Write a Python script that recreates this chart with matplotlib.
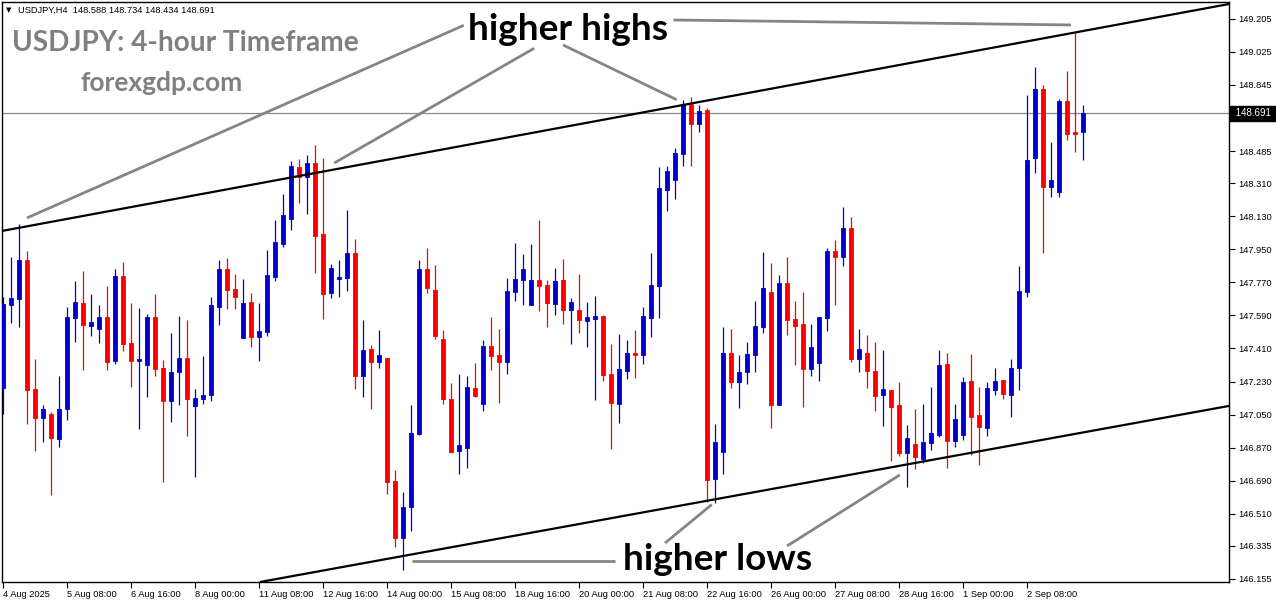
import matplotlib
matplotlib.use("Agg")
import matplotlib.pyplot as plt
import numpy as np

# ---------------- data (USDJPY H4 candles) ----------------
opens = [147.196,147.648,147.681,147.892,147.189,147.033,147.053,146.918,147.082,147.577,
         147.658,147.534,147.518,147.581,147.343,147.805,147.440,147.343,147.322,147.581,
         147.304,147.125,147.283,147.358,147.098,147.136,147.158,147.637,147.843,147.734,
         147.469,147.663,147.474,147.501,147.801,147.979,148.117,148.398,148.346,148.420,
         148.033,147.710,147.787,147.796,147.928,147.262,147.405,147.338,147.356,146.688,
         146.379,146.548,146.944,147.843,147.729,147.462,147.135,146.853,146.869,147.194,
         147.109,147.423,147.374,147.338,147.719,147.784,147.648,147.783,147.756,147.654,
         147.783,147.621,147.619,147.561,147.572,147.587,147.271,147.109,147.289,147.385,
         147.376,147.577,147.752,148.275,148.329,148.471,148.742,148.634,148.709,146.701,
         146.848,147.385,147.229,147.283,147.374,147.527,147.718,147.104,147.767,147.570,
         147.543,147.300,147.332,147.577,147.941,147.910,148.066,147.354,147.385,147.287,
         147.158,147.184,147.104,146.842,146.890,146.809,146.897,146.940,147.325,146.908,
         146.940,147.233,147.048,146.978,147.184,147.238,147.158,147.304,147.719,148.449,
         148.823,148.292,148.264,148.758,148.589,148.588]
highs = [147.689,147.910,148.088,147.941,147.353,147.102,147.064,147.260,147.634,147.777,
         147.832,147.707,147.647,147.750,147.843,147.881,147.658,147.630,147.598,147.707,
         147.349,147.494,147.587,147.565,147.189,147.369,147.690,147.892,147.903,147.816,
         147.788,147.712,147.658,147.946,148.110,148.251,148.433,148.442,148.464,148.518,
         148.447,147.870,147.892,148.164,148.006,147.565,147.429,147.511,147.356,146.748,
         146.630,147.102,147.892,147.957,147.863,147.511,147.222,147.271,147.260,147.331,
         147.456,147.581,147.516,147.794,147.984,147.924,147.979,148.110,147.783,147.848,
         147.897,147.683,147.816,147.663,147.697,147.594,147.434,147.489,147.456,147.511,
         147.637,147.930,148.398,148.404,148.502,148.763,148.781,148.736,148.720,146.999,
         147.527,147.516,147.374,147.445,147.668,147.935,147.875,147.810,147.908,147.668,
         147.718,147.543,147.581,147.957,148.001,148.180,148.126,147.516,147.483,147.445,
         147.402,147.184,147.227,146.995,147.082,147.109,147.202,147.402,147.387,147.107,
         147.254,147.380,147.200,147.227,147.304,147.238,147.353,147.859,148.791,148.943,
         148.845,148.535,148.769,148.921,149.128,148.734]
lows = [147.051,147.550,147.529,146.999,146.853,146.902,146.613,146.875,147.022,147.447,
        147.294,147.479,147.441,147.294,147.327,147.398,147.202,146.973,147.147,147.262,
        146.684,147.011,147.104,146.935,146.711,147.109,147.125,147.539,147.627,147.627,
        147.469,147.420,147.343,147.479,147.779,147.964,148.057,148.202,148.142,147.823,
        147.572,147.683,147.690,147.723,147.191,147.147,147.082,147.305,146.616,146.330,
        146.203,146.417,146.940,147.712,147.460,147.106,146.848,146.728,146.760,147.144,
        147.071,147.294,147.115,147.272,147.670,147.648,147.648,147.616,147.529,147.594,
        147.545,147.436,147.496,147.420,147.131,147.234,146.864,147.006,147.245,147.251,
        147.327,147.474,147.576,148.160,148.226,148.404,148.404,148.589,146.575,146.570,
        146.728,147.196,147.087,147.218,147.283,147.496,146.978,147.104,147.485,147.322,
        147.093,147.262,147.234,147.507,147.648,147.861,147.338,147.283,147.196,147.071,
        146.989,146.799,146.826,146.657,146.755,146.788,146.859,146.929,146.760,146.875,
        146.913,146.831,146.777,146.935,147.158,147.136,147.038,147.185,147.692,148.368,
        147.932,148.237,148.237,148.547,148.482,148.434]
closes = [147.652,147.685,147.892,147.185,147.033,147.080,146.924,147.080,147.581,147.663,
          147.539,147.554,147.581,147.338,147.805,147.436,147.343,147.353,147.581,147.300,
          147.125,147.282,147.358,147.136,147.140,147.156,147.647,147.843,147.730,147.690,
          147.658,147.474,147.505,147.810,147.990,148.137,148.404,148.342,148.420,148.024,
          147.708,147.848,147.801,147.928,147.262,147.402,147.338,147.373,146.684,146.379,
          146.546,146.949,147.843,147.741,147.479,147.133,146.848,146.884,147.200,147.151,
          147.423,147.371,147.338,147.723,147.788,147.843,147.783,147.752,147.659,147.777,
          147.621,147.661,147.567,147.581,147.587,147.267,147.115,147.298,147.385,147.376,
          147.587,147.756,148.284,148.377,148.475,148.742,148.634,148.703,146.695,146.900,
          147.385,147.229,147.282,147.380,147.532,147.739,147.104,147.767,147.567,147.534,
          147.300,147.418,147.581,147.941,147.910,148.066,147.354,147.407,147.289,147.153,
          147.189,147.093,146.842,146.922,146.820,146.900,146.949,147.320,146.908,147.026,
          147.227,147.038,146.984,147.194,147.233,147.164,147.304,147.723,148.437,148.823,
          148.292,148.328,148.758,148.580,148.580,148.691]

x_tick_pos = [0, 8, 16, 24, 32, 40, 48, 56, 64, 72, 80, 88, 96, 104, 112, 120, 128]
x_tick_labels = ["4 Aug 2025", "5 Aug 08:00", "6 Aug 16:00", "8 Aug 00:00", "11 Aug 08:00",
                 "12 Aug 16:00", "14 Aug 00:00", "15 Aug 08:00", "18 Aug 16:00", "20 Aug 00:00",
                 "21 Aug 08:00", "22 Aug 16:00", "26 Aug 00:00", "27 Aug 08:00", "28 Aug 16:00",
                 "1 Sep 00:00", "2 Sep 08:00"]
y_ticks = [149.205, 149.025, 148.845, 148.665, 148.485, 148.310, 148.130, 147.950, 147.770,
           147.590, 147.410, 147.230, 147.050, 146.870, 146.690, 146.510, 146.335, 146.155]
last_price = 148.691

# channel trend lines (index, price)
upper_channel_x = [-0.125, 153.25]
upper_channel_y = [148.050, 149.286]
lower_channel_x = [32.125, 153.25]
lower_channel_y = [146.138, 147.097]

# annotation pointer lines (index, price)
hh_pointers = [([57.6, 3.0], [149.170, 148.121]),
               ([66.4, 41.4], [149.045, 148.420]),
               ([70.0, 84.2], [149.063, 148.765]),
               ([83.8, 133.5], [149.199, 149.172])]
hl_pointers = [([76.5, 51.1], [146.250, 146.250]),
               ([82.75, 88.6], [146.350, 146.560]),
               ([98.0, 112.1], [146.334, 146.721])]

# ---------------- figure ----------------
W, H = 1276, 604
fig = plt.figure(figsize=(W / 100, H / 100), dpi=100)
fig.patch.set_facecolor("white")
ax = fig.add_axes([2 / W, 22 / H, 1227 / W, 580 / H])
ax.set_facecolor("white")

idx = np.arange(len(opens))
o = np.array(opens); h = np.array(highs); l = np.array(lows); c = np.array(closes)
up = c >= o
BLUE = "#0000CC"
RED = "#FF0000"
cols = np.where(up, BLUE, RED)

ax.vlines(idx, l, h, colors=cols, linewidth=0.9, zorder=3)
ax.bar(idx, np.abs(c - o), bottom=np.minimum(o, c), width=0.62, color=cols,
       edgecolor=cols, linewidth=0.6, zorder=4)

ax.plot(upper_channel_x, upper_channel_y, color="black", lw=1.6, zorder=5, solid_capstyle="butt")
ax.plot(lower_channel_x, lower_channel_y, color="black", lw=1.6, zorder=5, solid_capstyle="butt")
ax.axhline(last_price, color="#7A8A99", lw=0.9, zorder=2)

for xs, ys in hh_pointers + hl_pointers:
    ax.plot(xs, ys, color="#858585", lw=2.0, zorder=6, solid_capstyle="butt")

ax.set_xlim(-0.125, 153.25)
ax.set_ylim(146.138, 149.297)

small = dict(family="Liberation Sans", size=6.7)
ax.yaxis.tick_right()
ax.set_yticks(y_ticks)
# the 148.665 label sits behind the current-price box in the original
ax.set_yticklabels(["" if abs(v - 148.665) < 1e-6 else f"{v:.3f}" for v in y_ticks], fontdict=small)
ax.set_xticks(x_tick_pos)
ax.set_xticklabels(x_tick_labels, fontdict=small)
for lbl in ax.get_xticklabels():
    lbl.set_horizontalalignment("left")
ax.tick_params(axis="y", direction="out", length=4, width=0.8, pad=2.5, colors="black")
ax.tick_params(axis="x", direction="out", length=4, width=0.8, pad=1.5, colors="black")
for sp in ax.spines.values():
    sp.set_color("black")
    sp.set_linewidth(1.0)

# current price box
ax.text(1.003, last_price, " 148.691 ", transform=ax.get_yaxis_transform(),
        ha="left", va="center", color="white", fontsize=7.0, family="Liberation Sans",
        bbox=dict(boxstyle="square,pad=0.25", fc="black", ec="black"), zorder=10, clip_on=False)

# texts
def fx(px):
    return px / W
def fy(py):
    return 1 - py / H

fig.text(fx(6), fy(10), "\u25BC", fontsize=5, family="DejaVu Sans", va="center", ha="left")
fig.text(fx(18), fy(10), "USDJPY,H4  148.588 148.734 148.434 148.691", fontsize=6.7,
         family="Liberation Sans", va="center", ha="left")
fig.text(fx(12), fy(43), "USDJPY: 4-hour Timeframe", fontsize=20.2, family="Lato",
         weight="bold", color="#808080", va="center", ha="left")
fig.text(fx(162), fy(83), "forexgdp.com", fontsize=19, family="Lato",
         weight="bold", color="#808080", va="center", ha="center")
fig.text(fx(568), fy(29), "higher highs", fontsize=26.6, family="Lato",
         weight="bold", color="black", va="center", ha="center")
fig.text(fx(718), fy(560), "higher lows", fontsize=26.6, family="Lato",
         weight="bold", color="black", va="center", ha="center")

fig.savefig("out.png", dpi=100)
